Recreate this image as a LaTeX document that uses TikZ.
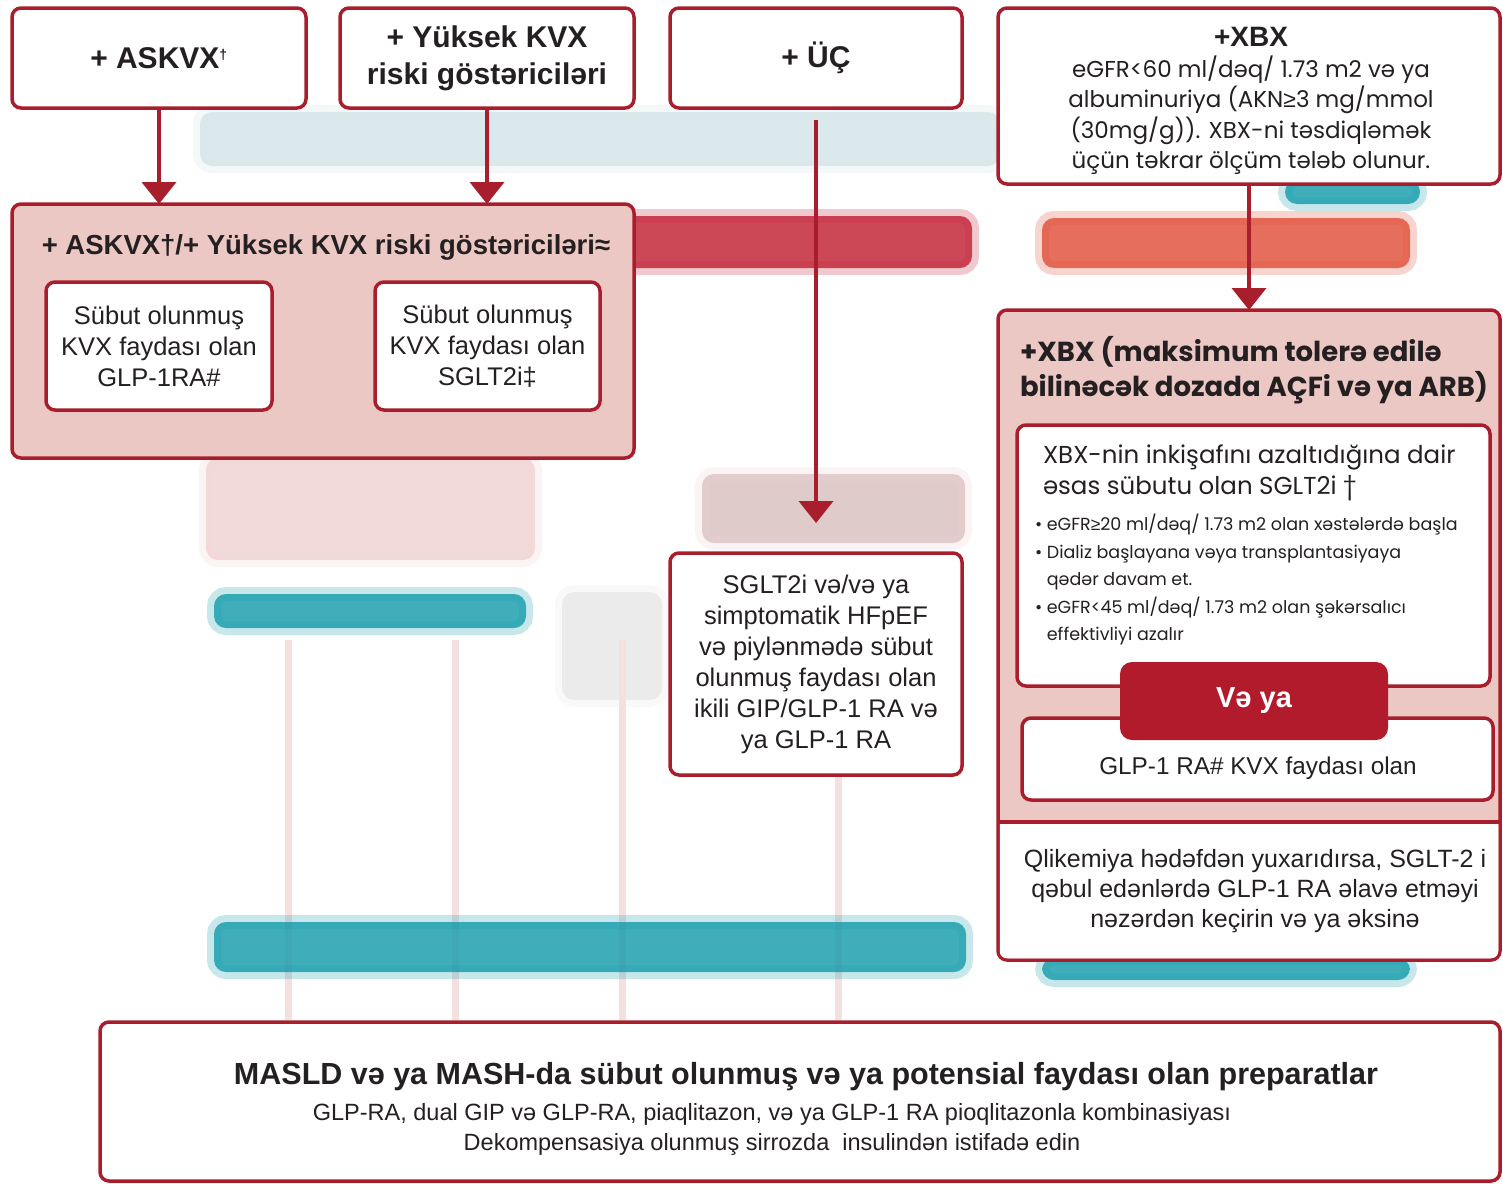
\documentclass[tikz,border=0pt]{standalone}
\usepackage{fontspec}
\setmainfont{Liberation Sans}
\newfontfamily\geo{Poppins}
\usepackage{tikz}
\usetikzlibrary{arrows.meta,positioning}
\definecolor{crim}{HTML}{A81E2D}
\definecolor{blush}{HTML}{ECC8C5}
\definecolor{btnred}{HTML}{B21B2C}
\definecolor{ink}{HTML}{242021}
\definecolor{tealbar}{HTML}{1E9FAE}
\definecolor{haze}{HTML}{D6E5E9}
\definecolor{rosehaze}{HTML}{F1D3D3}
\definecolor{redbar}{HTML}{C3283A}
\definecolor{orangebar}{HTML}{E2553F}
\newcommand{\fsz}[2]{\fontsize{#1}{#2}\selectfont}

\begin{document}
\begin{tikzpicture}[x=1pt,y=-1pt,every node/.style={text=ink,inner sep=0pt,outer sep=0pt},box/.style={draw=crim,line width=3.5pt,fill=white,rounded corners=9pt,align=center},grp/.style={box,fill=blush},head/.style={font=\bfseries\fsz{30}{37}},body/.style={font=\fsz{25.5}{31}},arr/.style={-{Triangle[width=34pt,length=22pt]},line width=4pt,draw=crim},blob/.style={rounded corners=12pt,fill opacity=.85,draw opacity=.25,line width=14pt}]
\useasboundingbox (0,0) rectangle (1503,1183);
\path[blob,fill=haze,draw=haze] (200,112) rectangle (1000,166);
\path[blob,fill=redbar,draw=redbar] (620,216) rectangle (972,268);
\path[blob,fill=orangebar,draw=orangebar] (1042,218) rectangle (1410,268);
\path[blob,fill=tealbar,draw=tealbar] (1285,180) rectangle (1420,204);
\path[blob,fill=rosehaze,draw=rosehaze] (206,458) rectangle (535,560);
\path[blob,fill=rosehaze!80!gray,draw=rosehaze] (702,474) rectangle (965,543);
\path[blob,fill=tealbar,draw=tealbar] (214,594) rectangle (526,628);
\path[blob,fill=gray!18,draw=gray!18] (562,592) rectangle (662,700);
\foreach \x in {288,455,622,838} \draw[rosehaze!70,line width=7pt] (\x,640) -- (\x,1020);
\path[blob,fill=tealbar,draw=tealbar] (214,922) rectangle (966,972);
\path[blob,fill=tealbar,draw=tealbar] (1042,958) rectangle (1410,980);
\node[box,head,minimum width=294,minimum height=100] (askvx) at (159,58) {+ ASKVX\textsuperscript{\fsz{14}{14}†}};
\node[box,head,minimum width=294,minimum height=100] (risk) at (487,58) {+ Yüksek KVX\\riski göstəriciləri};
\node[box,head,minimum width=292,minimum height=100] (uc) at (816,58) {+ ÜÇ};
\node[box,minimum width=502,minimum height=176] (xbx) at (1249,96) {};
\node[font=\geo\fsz{23}{30.5},align=center] (xbxt) at (1251,101) {{\rmfamily\bfseries\fsz{28}{33}+XBX}\\eGFR<60 ml/dəq/ 1.73 m2 və ya\\albuminuriya (AKN{\rmfamily ≥}3 mg/mmol\\(30mg/g)). XBX-ni təsdiqləmək\\üçün təkrar ölçüm tələb olunur.};
\node[grp,minimum width=622,minimum height=254] (cvgrp) at (323,331) {};
\node[font=\bfseries\fsz{27.5}{30}] (cvtitle) at (326,247) {+ ASKVX†/+ Yüksek KVX riski göstəriciləri≈};
\node[box,body,minimum width=226,minimum height=128] (glpa) at (159,346) {Sübut olunmuş\\KVX faydası olan\\GLP-1RA\#};
\node[box,body,minimum width=225,minimum height=128] (sglta) at (487.5,346) {Sübut olunmuş\\KVX faydası olan\\SGLT2i‡};
\draw[arr] (askvx) -- (askvx |- cvgrp.north);\draw[arr] (risk) -- (risk |- cvgrp.north);
\node[box,body,minimum width=292,minimum height=222] (hfpef) at (816,664) {SGLT2i və/və ya\\simptomatik HFpEF\\və piylənmədə sübut\\olunmuş faydası olan\\ikili GIP/GLP-1 RA və\\ya GLP-1 RA};
\draw[arr,shorten <=12pt,shorten >=30pt] (uc) -- (hfpef);
\node[grp,minimum width=502,minimum height=650] (xbxgrp) at (1249,635) {};
\fill[white] (999.75,822) [rounded corners=7pt] -- (999.75,958.25) -- (1498.25,958.25) [sharp corners] -- (1498.25,822) -- cycle;
\draw[crim,line width=3.5pt] (xbxgrp.west |- 0,822) -- (xbxgrp.east |- 0,822);
\draw[arr] (xbx) -- (xbxgrp);
\node[font=\geo\bfseries\fsz{27.5}{35},align=left,anchor=west] (xbxtitle) at (1020,370) {+XBX (maksimum tolerə edilə\\bilinəcək dozada AÇFi və ya ARB)};
\node[box,minimum width=473,minimum height=261] (sglk) at (1253.5,555.5) {};
\node[font=\geo\fsz{24.5}{31},align=left,anchor=west] (sglkt) at (1043,473) {XBX-nin inkişafını azaltıdığına dair\\əsas sübutu olan SGLT2i †};
\node[font=\geo\fsz{17.5}{27.5},align=left,anchor=west] (sglkb) at (1035,580) {• eGFR{\rmfamily ≥}20 ml/dəq/ 1.73 m2 olan xəstələrdə başla\\• Dializ başlayana vəya transplantasiyaya\\\phantom{• }qədər davam et.\\• eGFR<45 ml/dəq/ 1.73 m2 olan şəkərsalıcı\\\phantom{• }effektivliyi azalır};
\node[box,minimum width=471,minimum height=82] (glpk) at (1257.5,759) {};
\node[font=\fsz{24.3}{28}] (glpkt) at (1258,768) {GLP-1 RA\# KVX faydası olan};
\node[fill=btnred,rounded corners=12pt,minimum width=268,minimum height=78,text=white,font=\bfseries\fsz{29}{35}] (vaya) at (1254,701) {Və ya};
\node[font=\fsz{25}{30},align=center] (glyc) at (1255,891) {Qlikemiya hədəfdən yuxarıdırsa, SGLT-2 i\\qəbul edənlərdə GLP-1 RA əlavə etməyi\\nəzərdən keçirin və ya əksinə};
\node[box,minimum width=1400,minimum height=159] (masld) at (800,1101.5) {};
\node[font=\bfseries\fsz{30.5}{34}] (masldt) at (806,1077) {MASLD və ya MASH-da sübut olunmuş və ya potensial faydası olan preparatlar};
\node[font=\fsz{23.5}{30},align=center] (maslds) at (772,1129) {GLP-RA, dual GIP və GLP-RA, piaqlitazon, və ya GLP-1 RA pioqlitazonla kombinasiyası\\Dekompensasiya olunmuş sirrozda\ \ insulindən istifadə edin};
\end{tikzpicture}
\end{document}
